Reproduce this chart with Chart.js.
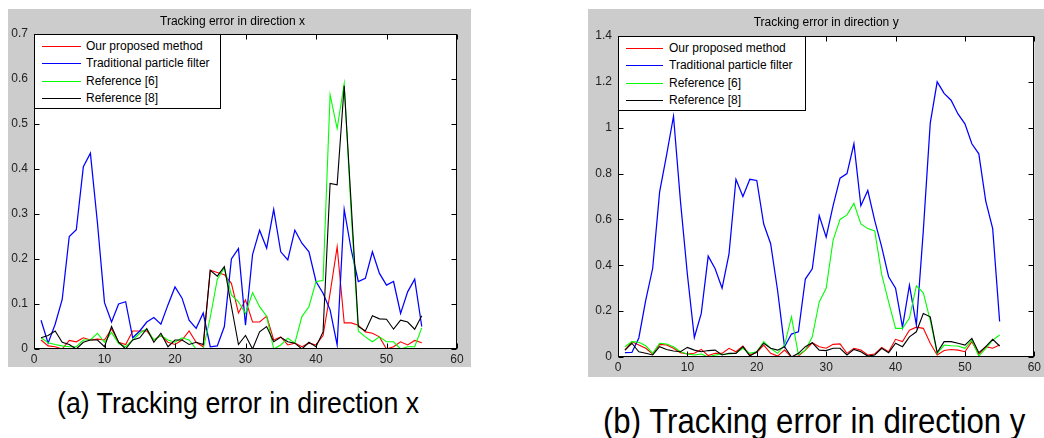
<!DOCTYPE html>
<html>
<head>
<meta charset="utf-8">
<script src="https://cdn.jsdelivr.net/npm/chart.js@4.4.1/dist/chart.umd.min.js"></script>
<style>
body{margin:0;background:#fff;width:1044px;height:438px;overflow:hidden;position:relative;font-family:"Liberation Sans",Arial,sans-serif}
.fig{position:absolute;background:#cccccc}
.fig canvas{position:absolute;left:0;top:0}
.legend{position:absolute;background:#fff;border:1px solid #000;box-sizing:border-box;font-size:12px;color:#000}
.legend .line{position:absolute}
.legend .txt{position:absolute;height:14px;line-height:14px;white-space:nowrap}
.caption{position:absolute;white-space:nowrap;color:#000;transform-origin:0 0}
</style>
</head>
<body>
<div class="fig" id="figA" style="left:8px;top:9px;width:463px;height:358px"><canvas id="chartA" width="463" height="358"></canvas></div>
<div class="fig" id="figB" style="left:588px;top:9px;width:456px;height:368px"><canvas id="chartB" width="456" height="368"></canvas></div>
<div class="caption" style="left:57px;top:388px;font-size:30px;line-height:30px;transform:scaleX(0.89)">(a) Tracking error in direction x</div>
<div class="caption" style="left:603px;top:403px;font-size:35px;line-height:35px;transform:scaleX(0.89)">(b) Tracking error in direction y</div>
<script>
// frame index (x axis)
var frames = [1,2,3,4,5,6,7,8,9,10,11,12,13,14,15,16,17,18,19,20,21,22,23,24,25,26,27,28,29,30,
  31,32,33,34,35,36,37,38,39,40,41,42,43,44,45,46,47,48,49,50,51,52,53,54,55];

var seriesNames = ["Our proposed method", "Traditional particle filter", "Reference [6]", "Reference [8]"];
var seriesColors = ["#ff0000", "#0000ff", "#00ff00", "#000000"];
var seriesWidths = [1.1, 1.25, 1.1, 1.1];

var xTicks = [0, 10, 20, 30, 40, 50, 60];
var yTicksA = [0, 0.1, 0.2, 0.3, 0.4, 0.5, 0.6, 0.7];
var yTicksB = [0, 0.2, 0.4, 0.6, 0.8, 1, 1.2, 1.4];

// (a) direction x
var xOurs = [0.02,0.007,0.005,0.0,0.019,0.016,0.025,0.02,0.022,0.02,
  0.045,0.015,0.01,0.04,0.04,0.04,0.02,0.03,0.015,0.01,
  0.02,0.04,0.015,0.005,0.175,0.17,0.165,0.146,0.08,0.109,
  0.06,0.06,0.073,0.02,0.027,0.009,0.013,0.005,0.013,0.009,
  0.03,0.124,0.227,0.058,0.058,0.053,0.038,0.035,0.027,0.0,
  0.005,0.016,0.009,0.019,0.014];
var xPF = [0.064,0.013,0.055,0.11,0.25,0.265,0.405,0.435,0.28,0.103,
  0.06,0.10,0.105,0.025,0.04,0.06,0.07,0.055,0.098,0.138,
  0.113,0.064,0.046,0.08,0.005,0.007,0.05,0.2,0.223,0.053,
  0.21,0.264,0.224,0.31,0.216,0.198,0.264,0.235,0.216,0.15,
  0.124,0.087,0.009,0.31,0.22,0.15,0.157,0.216,0.168,0.142,
  0.15,0.079,0.127,0.155,0.05];
var xRef6 = [0.025,0.014,0.01,0.007,0.005,0.005,0.02,0.02,0.035,0.015,
  0.037,0.012,0.005,0.02,0.035,0.045,0.02,0.03,0.02,0.015,
  0.025,0.02,0.0,0.0,0.07,0.155,0.18,0.12,0.105,0.079,
  0.125,0.094,0.073,0.0,0.009,0.024,0.013,0.072,0.094,0.15,
  0.152,0.565,0.49,0.59,0.30,0.04,0.027,0.016,0.027,0.016,
  0.016,0.0,0.005,0.005,0.047];
var xRef8 = [0.025,0.03,0.04,0.015,0.01,0.0,0.015,0.02,0.02,0.005,
  0.05,0.015,0.0,0.02,0.025,0.045,0.015,0.035,0.005,0.02,
  0.02,0.01,0.015,0.01,0.175,0.162,0.183,0.095,0.01,0.03,
  0.0,0.038,0.05,0.016,0.026,0.016,0.013,0.0,0.015,0.005,
  0.038,0.368,0.365,0.585,0.32,0.05,0.04,0.074,0.067,0.066,
  0.044,0.064,0.06,0.044,0.074];

// (b) direction y
var yOurs = [0.03,0.067,0.052,0.038,0.013,0.055,0.052,0.038,0.019,0.013,
  0.016,0.033,0.006,0.016,0.016,0.038,0.023,0.048,0.009,0.019,
  0.052,0.016,0.004,0.03,0.0,0.004,0.03,0.062,0.045,0.038,
  0.055,0.057,0.016,0.038,0.03,0.009,0.013,0.042,0.023,0.077,
  0.067,0.117,0.13,0.125,0.06,0.009,0.028,0.033,0.03,0.023,
  0.067,0.012,0.045,0.038,0.052];
var yPF = [0.019,0.02,0.083,0.248,0.387,0.72,0.88,1.05,0.68,0.36,
  0.085,0.19,0.44,0.385,0.30,0.45,0.775,0.70,0.775,0.77,
  0.58,0.494,0.29,0.045,0.10,0.11,0.34,0.385,0.617,0.523,
  0.66,0.78,0.80,0.93,0.66,0.726,0.595,0.48,0.35,0.30,
  0.13,0.313,0.14,0.55,1.02,1.20,1.15,1.12,1.06,1.017,
  0.93,0.886,0.68,0.56,0.155];
var yRef6 = [0.045,0.067,0.064,0.049,0.016,0.06,0.057,0.045,0.023,0.013,
  0.009,0.013,0.0,0.009,0.012,0.013,0.016,0.038,0.016,0.023,
  0.067,0.038,0.016,0.052,0.175,0.01,0.03,0.088,0.24,0.30,
  0.51,0.60,0.62,0.67,0.58,0.56,0.55,0.36,0.24,0.125,
  0.125,0.17,0.31,0.28,0.16,0.015,0.052,0.049,0.048,0.038,
  0.074,0.004,0.038,0.074,0.096];
var yRef8 = [0.03,0.06,0.023,0.016,0.009,0.045,0.033,0.026,0.023,0.042,
  0.03,0.023,0.028,0.03,0.009,0.016,0.016,0.045,0.004,0.023,
  0.06,0.038,0.03,0.045,0.0,0.016,0.045,0.062,0.03,0.028,
  0.038,0.038,0.009,0.033,0.023,0.004,0.009,0.038,0.019,0.06,
  0.045,0.088,0.11,0.19,0.175,0.019,0.067,0.067,0.06,0.052,
  0.081,0.019,0.045,0.077,0.048];

// white plot area, black box and inward tick marks on all four sides
var matlabFrame = {
  id: 'matlabFrame',
  beforeDraw: function(chart) {
    var a = chart.chartArea, ctx = chart.ctx;
    ctx.save();
    ctx.fillStyle = '#fff';
    ctx.fillRect(a.left, a.top, a.right - a.left, a.bottom - a.top);
    ctx.restore();
  },
  afterDraw: function(chart) {
    var a = chart.chartArea, ctx = chart.ctx, sx = chart.scales.x, sy = chart.scales.y;
    var len = 5;
    var l = Math.round(a.left) + 0.5, r = Math.round(a.right) - 0.5;
    var t = Math.round(a.top) + 0.5, b = Math.round(a.bottom) - 0.5;
    ctx.save();
    ctx.strokeStyle = '#000';
    ctx.lineWidth = 1;
    ctx.beginPath();
    sx.ticks.forEach(function(tk) {
      var px = Math.round(sx.getPixelForValue(tk.value)) + 0.5;
      ctx.moveTo(px, b); ctx.lineTo(px, b - len);
      ctx.moveTo(px, t); ctx.lineTo(px, t + len);
    });
    sy.ticks.forEach(function(tk) {
      var py = Math.round(sy.getPixelForValue(tk.value)) + 0.5;
      ctx.moveTo(l, py); ctx.lineTo(l + len, py);
      ctx.moveTo(r, py); ctx.lineTo(r - len, py);
    });
    ctx.stroke();
    ctx.strokeRect(l, t, r - l, b - t);
    ctx.restore();
  }
};

function fmt(v) { return String(+Number(v).toFixed(2)); }

function buildChart(id, title, values, yTicks, geo) {
  var datasets = values.map(function(vals, i) {
    return {
      label: seriesNames[i],
      data: frames.map(function(f, k) { return {x: f, y: vals[k]}; }),
      borderColor: seriesColors[i],
      backgroundColor: seriesColors[i],
      borderWidth: seriesWidths[i],
      pointRadius: 0,
      tension: 0,
      order: values.length - i
    };
  });
  var ctx = document.getElementById(id).getContext('2d');
  var chart = new Chart(ctx, {
    type: 'line',
    data: { datasets: datasets },
    options: {
      responsive: false,
      animation: false,
      events: [],
      layout: { padding: { left: 0, right: geo.padRight, top: 0, bottom: 0 } },
      plugins: {
        legend: { display: false },
        tooltip: { enabled: false },
        title: {
          display: true,
          text: title,
          color: '#000',
          fullSize: geo.titleFull,
          font: { family: 'Liberation Sans', size: 12, weight: 'normal', lineHeight: 13 / 12 },
          padding: { top: geo.titlePad, bottom: geo.titlePad }
        }
      },
      scales: {
        x: {
          type: 'linear',
          min: xTicks[0],
          max: xTicks[xTicks.length - 1],
          afterBuildTicks: function(s) { s.ticks = xTicks.map(function(v) { return {value: v}; }); },
          afterFit: function(s) { s.height = geo.xHeight; },
          grid: { display: false, drawTicks: false },
          border: { display: false },
          ticks: { color: '#222', padding: 3, maxRotation: 0, autoSkip: false,
                   font: { family: 'Liberation Sans', size: 12 }, callback: fmt }
        },
        y: {
          type: 'linear',
          min: yTicks[0],
          max: yTicks[yTicks.length - 1],
          afterBuildTicks: function(s) { s.ticks = yTicks.map(function(v) { return {value: v}; }); },
          afterFit: function(s) { s.width = geo.yWidth; },
          grid: { display: false, drawTicks: false },
          border: { display: false },
          ticks: { color: '#222', padding: 6, autoSkip: false,
                   font: { family: 'Liberation Sans', size: 12 }, callback: fmt }
        }
      }
    },
    plugins: [matlabFrame]
  });

  // boxed legend inside the axes, like the MATLAB one
  var fig = document.getElementById(geo.fig);
  var box = document.createElement('div');
  box.className = 'legend';
  box.style.left = (fig.offsetLeft + Math.round(chart.chartArea.left)) + 'px';
  box.style.top = (fig.offsetTop + Math.round(chart.chartArea.top)) + 'px';
  box.style.width = geo.legW + 'px';
  box.style.height = geo.legH + 'px';
  chart.data.datasets.forEach(function(ds, i) {
    var cy = 11 + Math.round(i * 17.4);
    var ln = document.createElement('div');
    ln.className = 'line';
    ln.style.left = geo.sampleX + 'px';
    ln.style.top = cy + 'px';
    ln.style.width = geo.sampleW + 'px';
    ln.style.height = ds.borderWidth + 'px';
    ln.style.background = ds.borderColor;
    var tx = document.createElement('div');
    tx.className = 'txt';
    tx.style.left = geo.textX + 'px';
    tx.style.top = (cy - 7) + 'px';
    tx.textContent = ds.label;
    box.appendChild(ln);
    box.appendChild(tx);
  });
  document.body.appendChild(box);
  return chart;
}

buildChart('chartA', 'Tracking error in direction x', [xOurs, xPF, xRef6, xRef8], yTicksA,
  { fig: 'figA', padRight: 14, yWidth: 26, xHeight: 18, titlePad: 6, titleFull: true,
    legW: 187, legH: 75, sampleX: 7, sampleW: 39, textX: 51 });
buildChart('chartB', 'Tracking error in direction y', [yOurs, yPF, yRef6, yRef8], yTicksB,
  { fig: 'figB', padRight: 3, yWidth: 30, xHeight: 20, titlePad: 7, titleFull: false,
    legW: 188, legH: 75, sampleX: 7, sampleW: 37, textX: 50 });
</script>
</body>
</html>
